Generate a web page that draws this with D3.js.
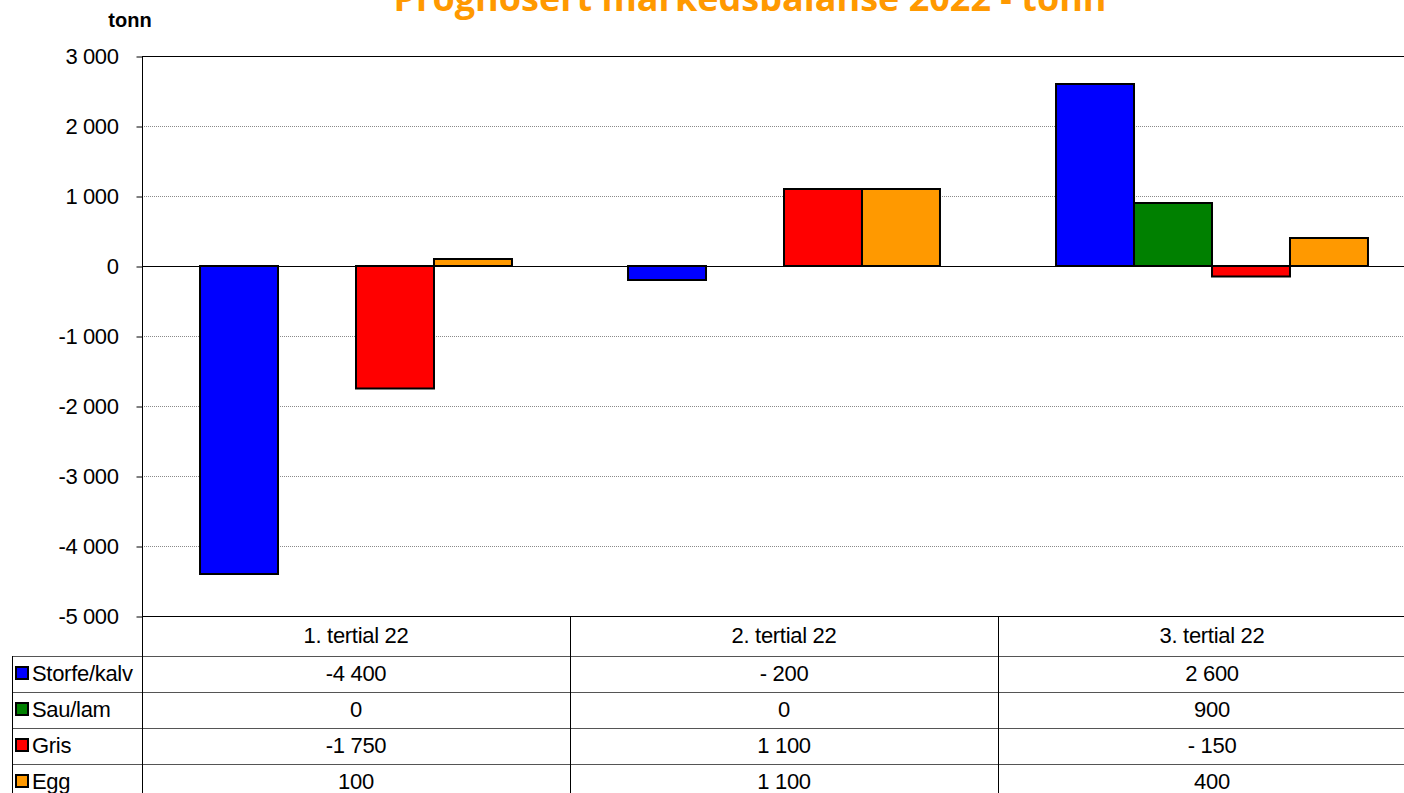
<!DOCTYPE html>
<html>
<head>
<meta charset="utf-8">
<script src="https://cdn.jsdelivr.net/npm/d3@7"></script>
<style>
  html, body { margin: 0; padding: 0; background: #fff; overflow: hidden; }
  svg { display: block; font-family: "Liberation Sans", Arial, sans-serif; }
</style>
</head>
<body>
<svg id="chart" width="1404" height="793"></svg>
<script>
var categories = ["1. tertial 22", "2. tertial 22", "3. tertial 22"];
var series = ["Storfe/kalv", "Sau/lam", "Gris", "Egg"];
var colors = ["#0000ff", "#008000", "#ff0000", "#ff9900"];
var storfe = [-4400, -200, 2600];
var sau = [0, 0, 900];
var gris = [-1750, 1100, -150];
var egg = [100, 1100, 400];
var yTicks = [3000, 2000, 1000, 0, -1000, -2000, -3000, -4000, -5000];

var values = [storfe, sau, gris, egg];

var margin = { top: 56, left: 142 },
    plotH = 560,
    bandW = 428,
    rowH = 36,
    headH = 40,
    fs = "22px";

var svg = d3.select("#chart");

// Excel-like number format: "-4 400", "- 200"
function fmt(v) {
    var a = Math.abs(v);
    var s = a >= 1000 ? Math.floor(a / 1000) + " " + String(a % 1000).padStart(3, "0") : String(a);
    if (v < 0) s = (a >= 1000 ? "-" : "- ") + s;
    return s;
}

var x0 = d3.scaleBand()
    .domain(categories)
    .range([margin.left, margin.left + bandW * categories.length])
    .paddingInner(0)
    .paddingOuter(0);

var x1 = d3.scaleBand()
    .domain(series)
    .range([0, x0.bandwidth()])
    .paddingInner(0)
    .paddingOuter(0.744);

var y = d3.scaleLinear()
    .domain([-5000, 3000])
    .range([margin.top + plotH, margin.top]);

var right = 1404;

// title (partly off the top, like the reference)
svg.append("text")
    .attr("x", 750)
    .attr("y", 11)
    .attr("text-anchor", "middle")
    .style("font-family", "'Open Sans', sans-serif")
    .style("font-weight", "bold")
    .style("font-size", "36px")
    .style("fill", "#ff9900")
    .text("Prognosert markedsbalanse 2022 - tonn");

svg.append("text")
    .attr("x", 130)
    .attr("y", 27)
    .attr("text-anchor", "middle")
    .style("font-weight", "bold")
    .style("font-size", "20px")
    .text("tonn");

// gridlines
svg.append("g").selectAll("line")
    .data(yTicks)
    .join("line")
    .attr("x1", margin.left)
    .attr("x2", right)
    .attr("y1", d => Math.round(y(d)) + 0.5)
    .attr("y2", d => Math.round(y(d)) + 0.5)
    .attr("stroke", d => (d === 0 || d === 3000 || d === -5000) ? "#000" : "#8a8a8a")
    .attr("stroke-dasharray", d => (d === 0 || d === 3000 || d === -5000) ? null : "1,1");

// y axis
var yAxis = d3.axisLeft(y)
    .tickValues(yTicks)
    .tickSize(6)
    .tickFormat(fmt);

var ga = svg.append("g")
    .attr("transform", "translate(" + (margin.left + 0.5) + ",0.5)")
    .call(yAxis);
ga.select(".domain").remove();
ga.selectAll("text")
    .attr("x", -24)
    .attr("dy", "0.33em")
    .style("font-size", fs)
    .style("letter-spacing", "-0.4px")
    .style("font-family", "'Liberation Sans', Arial, sans-serif")
    .style("fill", "#000");
ga.selectAll("line").attr("stroke", "#000");

// bars
var groups = svg.append("g").selectAll("g")
    .data(categories)
    .join("g")
    .attr("transform", d => "translate(" + x0(d) + ",0)");

groups.selectAll("rect")
    .data((c, ci) => series.map((s, si) => ({ s: s, si: si, v: values[si][ci] })).filter(d => d.v !== 0))
    .join("rect")
    .attr("x", d => x1(d.s))
    .attr("width", x1.bandwidth())
    .attr("y", d => y(Math.max(0, d.v)))
    .attr("height", d => Math.abs(y(d.v) - y(0)))
    .attr("fill", d => colors[d.si])
    .attr("stroke", "#000")
    .attr("stroke-width", 2);

// zero line on top
svg.append("line")
    .attr("x1", margin.left).attr("x2", right)
    .attr("y1", Math.round(y(0)) + 0.5).attr("y2", Math.round(y(0)) + 0.5)
    .attr("stroke", "#000");

// data table
var tTop = margin.top + plotH;
var tBottom = tTop + headH + rowH * series.length;
var table = svg.append("g");

// header labels
table.selectAll(".cat")
    .data(categories)
    .join("text")
    .attr("class", "cat")
    .attr("x", d => x0(d) + x0.bandwidth() / 2)
    .attr("y", tTop + headH / 2 + 7)
    .attr("text-anchor", "middle")
    .style("font-size", fs)
    .style("letter-spacing", "-0.3px")
    .text(d => d);

// horizontal row lines
var rowLines = d3.range(series.length + 1).map(i => tTop + headH + i * rowH);
table.selectAll(".hline")
    .data(rowLines)
    .join("line")
    .attr("x1", 12)
    .attr("x2", right)
    .attr("y1", d => d + 0.5)
    .attr("y2", d => d + 0.5)
    .attr("stroke", "#555");

// vertical dividers
table.selectAll(".vline")
    .data(categories.slice(1))
    .join("line")
    .attr("x1", d => x0(d) + 0.5)
    .attr("x2", d => x0(d) + 0.5)
    .attr("y1", tTop)
    .attr("y2", tBottom)
    .attr("stroke", "#000");

// left plot axis line
svg.append("line")
    .attr("x1", margin.left + 0.5).attr("x2", margin.left + 0.5)
    .attr("y1", margin.top).attr("y2", tBottom)
    .attr("stroke", "#000");

// legend column left border
table.append("line")
    .attr("x1", 12.5).attr("x2", 12.5)
    .attr("y1", tTop + headH).attr("y2", tBottom)
    .attr("stroke", "#000");

// rows
var rows = table.selectAll(".row")
    .data(series)
    .join("g")
    .attr("class", "row")
    .attr("transform", (d, i) => "translate(0," + (tTop + headH + i * rowH) + ")");

rows.append("rect")
    .attr("x", 16)
    .attr("y", rowH / 2 - 7)
    .attr("width", 12)
    .attr("height", 12)
    .attr("fill", (d, i) => colors[i])
    .attr("stroke", "#000")
    .attr("stroke-width", 2);

rows.append("text")
    .attr("x", 32)
    .attr("y", rowH / 2 + 7)
    .style("font-size", fs)
    .style("letter-spacing", "-0.3px")
    .text(d => d);

rows.selectAll(".val")
    .data((s, si) => categories.map((c, ci) => ({ c: c, v: values[si][ci] })))
    .join("text")
    .attr("class", "val")
    .attr("x", d => x0(d.c) + x0.bandwidth() / 2)
    .attr("y", rowH / 2 + 7)
    .attr("text-anchor", "middle")
    .style("font-size", fs)
    .style("letter-spacing", "-0.3px")
    .text(d => fmt(d.v));
</script>
</body>
</html>
